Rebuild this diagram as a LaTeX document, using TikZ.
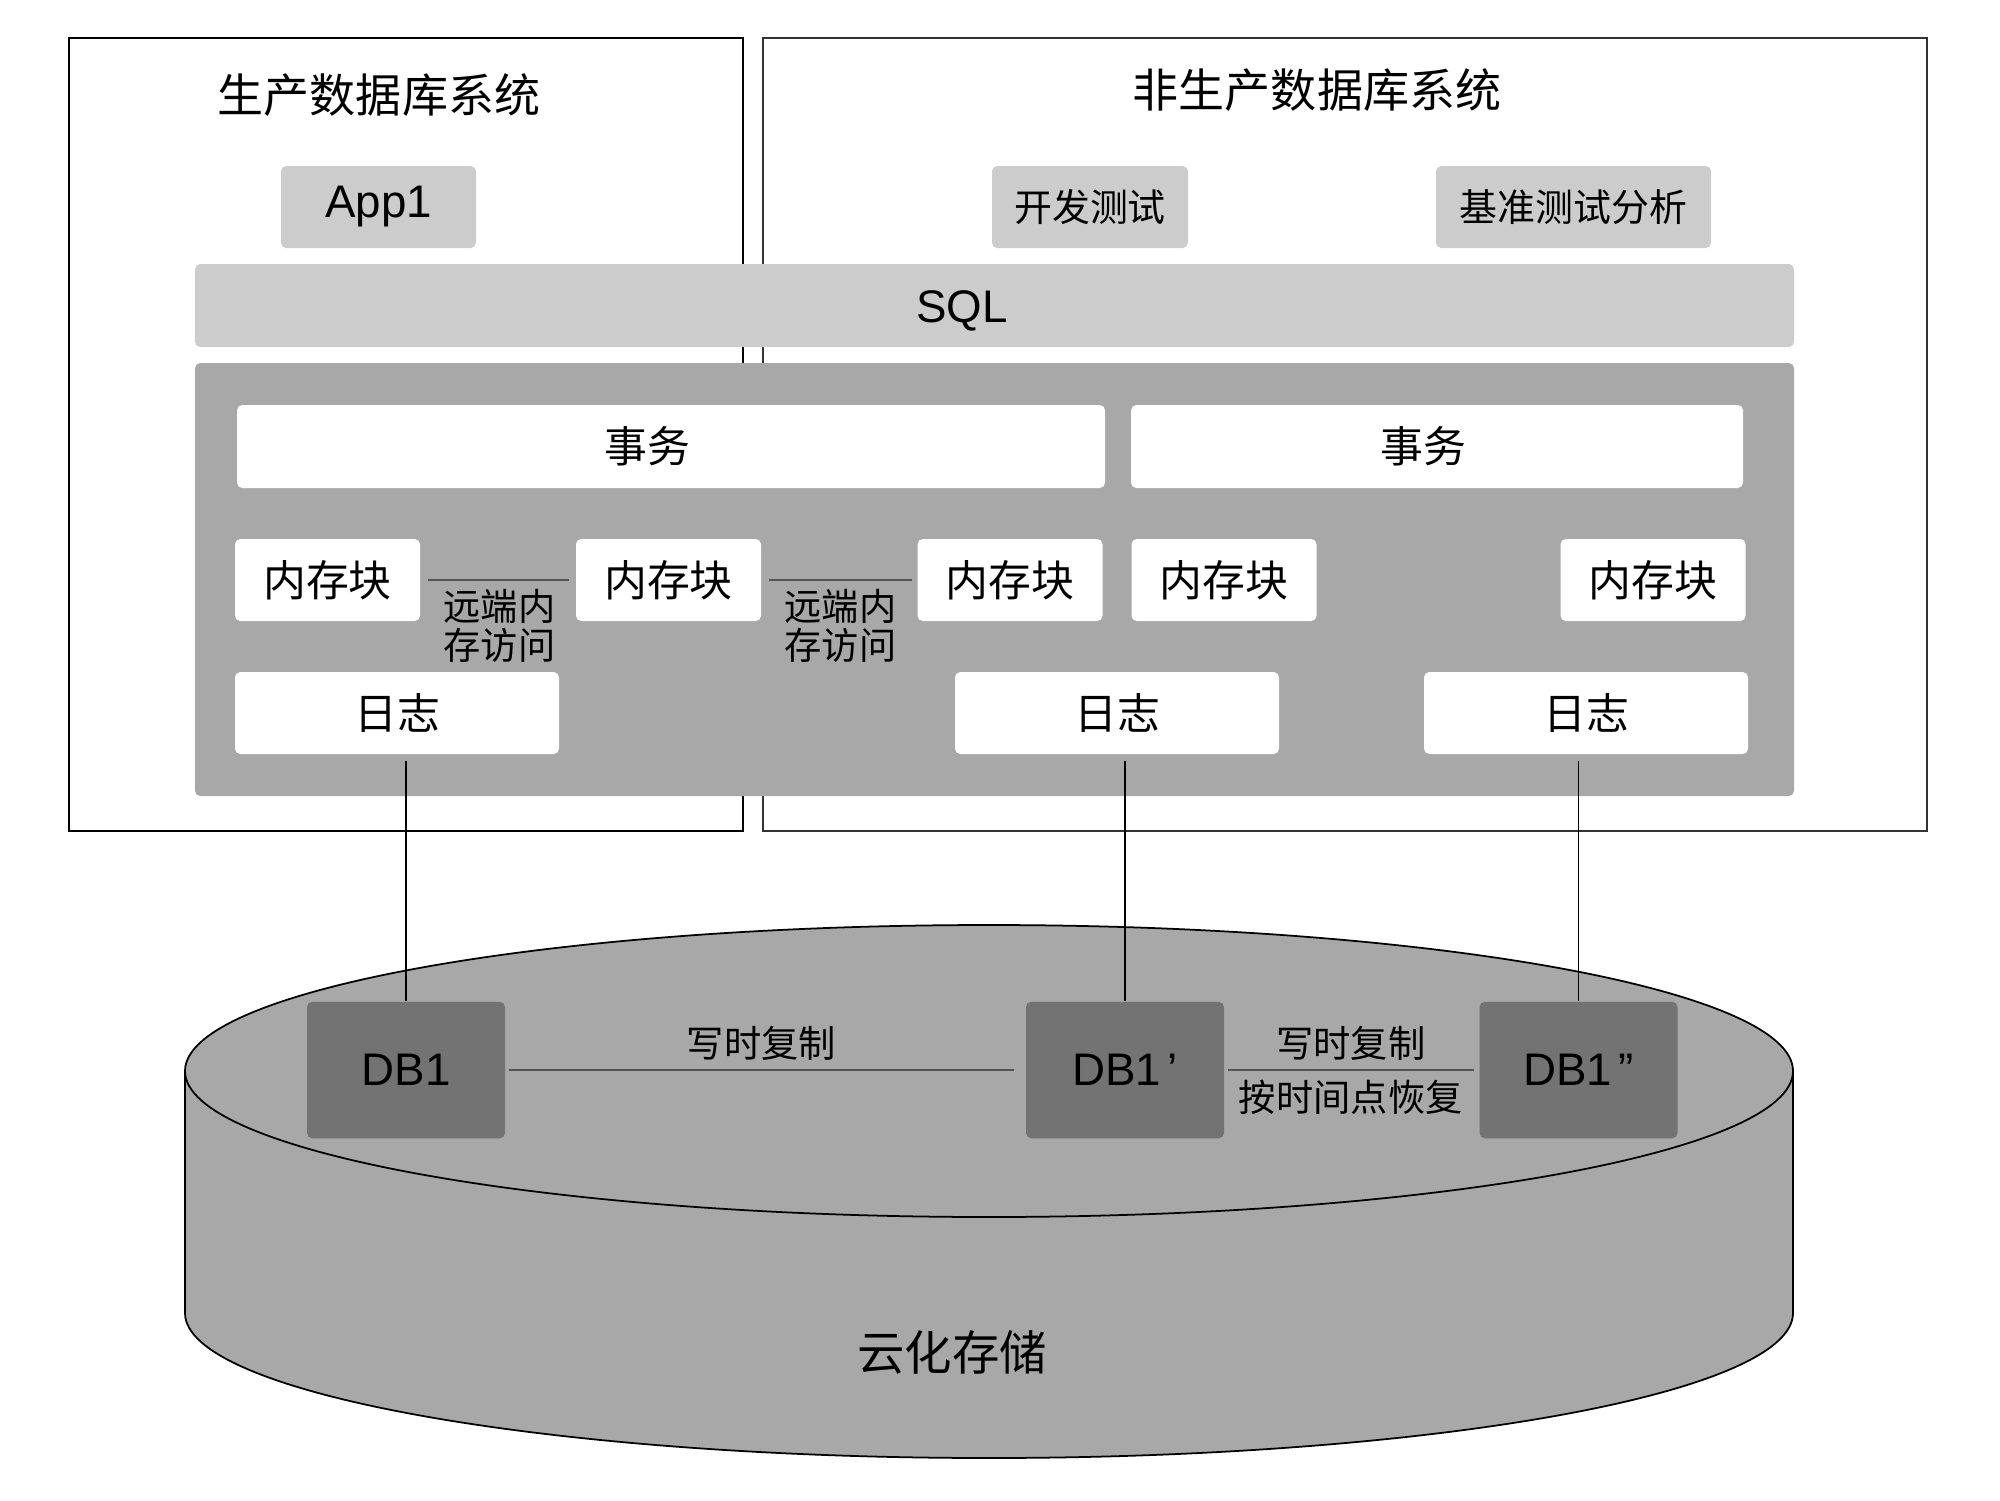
\documentclass[tikz,border=0pt]{standalone}
\usepackage{fontspec}
\setmainfont{Liberation Sans}
\newfontfamily\cjk{Noto Sans CJK SC}
\usetikzlibrary{positioning,calc}

\definecolor{appgray}{HTML}{CCCCCC}
\definecolor{panelgray}{HTML}{A8A8A8}
\definecolor{dbgray}{HTML}{737373}
\definecolor{linkgray}{HTML}{555555}

\begin{document}
\begin{tikzpicture}[
  sysbox/.style={draw=black, line width=0.5pt, rectangle, inner sep=0pt, minimum height=7.93cm},
  appbox/.style={rectangle, rounded corners=1.5pt, fill=appgray, inner sep=0pt, minimum height=0.82cm},
  whitebox/.style={rectangle, rounded corners=1.5pt, fill=white, inner sep=0pt, minimum height=0.82cm},
  dbbox/.style={rectangle, rounded corners=1.5pt, fill=dbgray, inner sep=0pt, minimum width=1.98cm, minimum height=1.365cm, font=\fontsize{13pt}{15pt}\selectfont},
  latinbig/.style={font=\fontsize{13pt}{15pt}\selectfont},
  cjktitle/.style={font=\cjk\fontsize{13.1pt}{15pt}\selectfont},
  cjkmid/.style={font=\cjk\fontsize{12.2pt}{14pt}\selectfont},
  cjksmall/.style={font=\cjk\fontsize{10.6pt}{11.1pt}\selectfont},
  link/.style={draw=linkgray, line width=0.6pt}
]
  \useasboundingbox (0,0) rectangle (20,-15);

  % Systems
  \node [sysbox, minimum width=6.74cm] (prod) at (4.06,-4.345) {};
  \node [sysbox, draw=black!80, minimum width=11.64cm] (nonprod) at (13.45,-4.345) {};
  \node [cjktitle] (prodtitle) at (3.79,-0.95) {生产数据库系统};
  \node [cjktitle] (nonprodtitle) at (13.17,-0.90) {非生产数据库系统};

  % Applications
  \node [appbox, minimum width=1.95cm, latinbig] (app) at (3.785,-2.07) {App1};
  \node [appbox, minimum width=1.96cm, font=\cjk\fontsize{10.8pt}{13pt}\selectfont] (devtest) at (10.90,-2.07) {开发测试};
  \node [appbox, minimum width=2.75cm, font=\cjk\fontsize{10.8pt}{13pt}\selectfont] (bench) at (15.735,-2.07) {基准测试分析};
  \node [appbox, minimum width=15.99cm, minimum height=0.83cm, label={[latinbig, xshift=-0.325cm, yshift=-0.05cm]center:SQL}] (sql) at (9.945,-3.055) {};

  % Engine
  \node [rectangle, rounded corners=1.5pt, fill=panelgray, inner sep=0pt, minimum width=15.99cm, minimum height=4.33cm] (engine) at (9.945,-5.795) {};
  \node [whitebox, minimum width=8.68cm, minimum height=0.83cm, label={[cjkmid, xshift=-0.24cm]center:事务}] (txn1) at (6.71,-4.465) {};
  \node [whitebox, minimum width=6.12cm, minimum height=0.83cm, label={[cjkmid, xshift=-0.14cm]center:事务}] (txn2) at (14.37,-4.465) {};

  \node [whitebox, minimum width=1.85cm, cjkmid] (mem1) at (3.275,-5.80) {内存块};
  \node [whitebox, minimum width=1.85cm, cjkmid] (mem2) at (6.685,-5.80) {内存块};
  \node [whitebox, minimum width=1.85cm, cjkmid] (mem3) at (10.10,-5.80) {内存块};
  \node [whitebox, minimum width=1.85cm, cjkmid] (mem4) at (12.24,-5.80) {内存块};
  \node [whitebox, minimum width=1.85cm, cjkmid] (mem5) at (16.53,-5.80) {内存块};

  \node [whitebox, minimum width=3.24cm, cjkmid] (log1) at (3.97,-7.13) {日志};
  \node [whitebox, minimum width=3.24cm, cjkmid] (log2) at (11.17,-7.13) {日志};
  \node [whitebox, minimum width=3.24cm, cjkmid] (log3) at (15.86,-7.13) {日志};

  % Remote memory access
  \draw [link] ([xshift=0.07cm]mem1.east) -- ([xshift=-0.06cm]mem2.west);
  \draw [link] ([xshift=0.07cm]mem2.east) -- ([xshift=-0.05cm]mem3.west);
  \node [cjksmall, inner sep=0pt, anchor=north west, align=left] (remote1) at (4.43,-5.88) {远端内\\存访问};
  \node [cjksmall, inner sep=0pt, anchor=north west, align=left] (remote2) at (7.84,-5.88) {远端内\\存访问};

  % Cloud storage
  \fill [panelgray] (1.85,-10.71) -- (1.85,-13.13) arc[start angle=180, end angle=360, x radius=8.04, y radius=1.45] -- (17.93,-10.71) arc[start angle=0, end angle=180, x radius=8.04, y radius=1.46] -- cycle;
  \draw [line width=0.5pt] (1.85,-10.71) -- (1.85,-13.13) arc[start angle=180, end angle=360, x radius=8.04, y radius=1.45] -- (17.93,-10.71);
  \draw [line width=0.5pt] (9.89,-10.71) ellipse [x radius=8.04, y radius=1.46];
  \node [font=\cjk\fontsize{13.5pt}{15pt}\selectfont] (cloud) at (9.52,-13.52) {云化存储};

  \node [dbbox] (db1) at (4.06,-10.70) {DB1};
  \node [dbbox] (db2) at (11.25,-10.70) {DB1\kern0.15em’};
  \node [dbbox] (db3) at (15.785,-10.70) {DB1\kern0.15em”};

  % Connectors
  \draw [line width=0.4pt] ([yshift=-0.06cm]db1.north |- log1.south) -- (db1.north);
  \draw [line width=0.4pt] ([yshift=-0.06cm]db2.north |- log2.south) -- (db2.north);
  \draw [line width=0.4pt] ([yshift=-0.06cm]db3.north |- log3.south) -- (db3.north);
  \draw [link] ([xshift=0.03cm]db1.east) -- node[above, inner sep=2.5pt, cjksmall] {写时复制} ([xshift=-0.11cm]db2.west);
  \draw [link] ([xshift=0.03cm]db2.east) -- node[above, inner sep=2.5pt, cjksmall] {写时复制} node[below, inner sep=2.5pt, cjksmall] {按时间点恢复} ([xshift=-0.05cm]db3.west);
\end{tikzpicture}
\end{document}
